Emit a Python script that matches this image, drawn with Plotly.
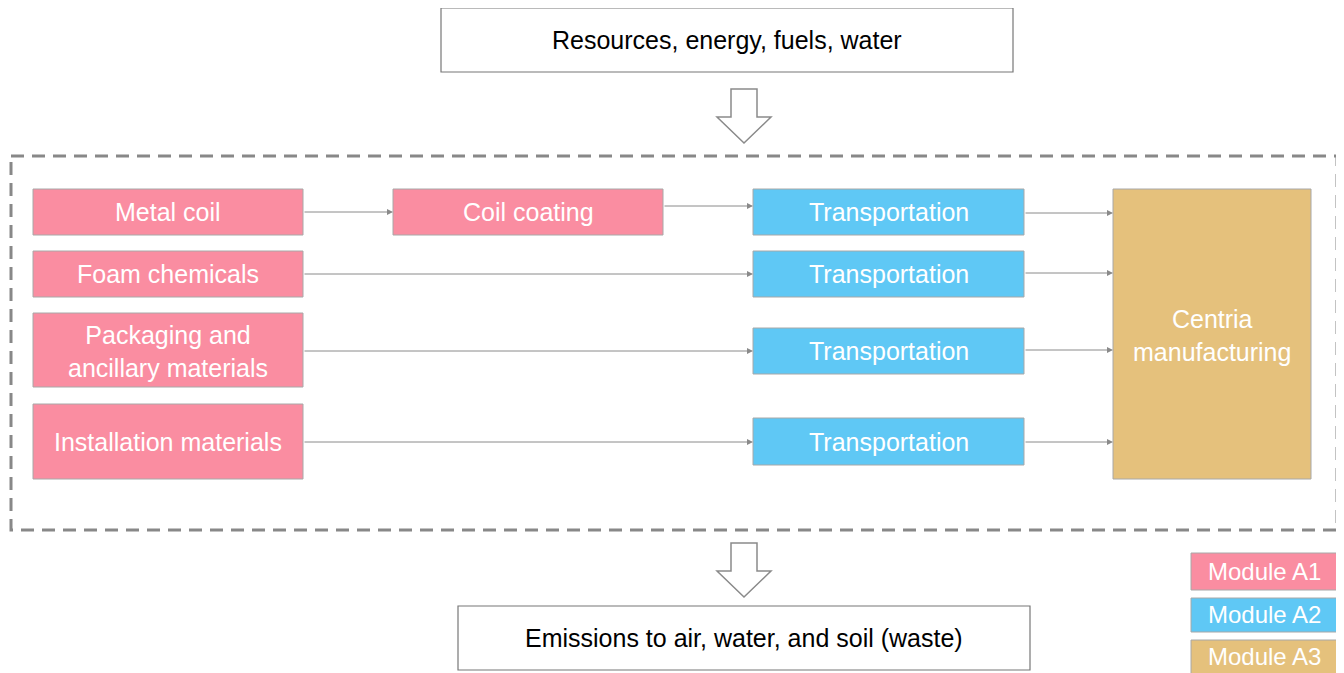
import plotly.graph_objects as go

# ---- content ----
a1_labels = ["Metal coil", "Foam chemicals", "Packaging and<br>ancillary materials", "Installation materials"]
coating_label = "Coil coating"
a2_labels = ["Transportation", "Transportation", "Transportation", "Transportation"]
a3_label = "Centria<br>manufacturing"
top_label = "Resources, energy, fuels, water"
bottom_label = "Emissions to air, water, and soil (waste)"
legend_labels = ["Module A1", "Module A2", "Module A3"]

# ---- layout (pixel geometry) ----
a1_x = (33, 303)
a1_y = [(189, 235), (251, 297), (313, 387), (404, 479)]
coat_x = (393, 663)
coat_y = (189, 235)
a2_x = (753, 1024)
a2_y = [(189, 235), (251, 297), (328, 374), (418, 465)]
a3_box = (1113, 1311, 189, 479)
a1_arrow_y = [212, 274, 351, 442]
arrow_in_y = [213, 273, 350, 442]
top_box = (441, 1013, 8, 72)
bot_box = (458, 1030, 606, 670)
legend_x = (1191, 1338)
legend_y = [(553, 590), (598, 632), (640, 676)]

PINK = "#FA8DA1"
BLUE = "#5FC8F5"
TAN = "#E5C17C"
EDGE = "#A8A8A8"
GREY = "#8A8A8A"
FONT = "Liberation Sans, Arial, sans-serif"

fig = go.Figure()
shapes = []
annots = []


def box(x0, x1, y0, y1, fill, text, color="white", size=25, edge=EDGE, lw=1, ty=None):
    shapes.append(dict(type="rect", xref="x", yref="y", x0=x0, x1=x1, y0=y0, y1=y1,
                       fillcolor=fill, line=dict(color=edge, width=lw), layer="above"))
    annots.append(dict(x=(x0 + x1) / 2, y=(y0 + y1) / 2 if ty is None else ty, xref="x", yref="y",
                       text=text, showarrow=False, font=dict(family=FONT, size=size, color=color),
                       xanchor="center", yanchor="middle", align="center"))


def arrow(x0, y0, x1, y1):
    annots.append(dict(x=x1, y=y1, ax=x0, ay=y0, xref="x", yref="y", axref="x", ayref="y",
                       text="", showarrow=True, arrowhead=2, arrowsize=1.2, arrowwidth=1,
                       arrowcolor=GREY, standoff=0, startstandoff=0))


def block_arrow(cx, top, head_y, tip):
    sw, hw = 13, 27
    path = (f"M {cx-sw},{top} L {cx+sw},{top} L {cx+sw},{head_y} L {cx+hw},{head_y} "
            f"L {cx},{tip} L {cx-hw},{head_y} L {cx-sw},{head_y} Z")
    shapes.append(dict(type="path", xref="x", yref="y", path=path, fillcolor="white",
                       line=dict(color=GREY, width=1.5)))


# dashed system boundary
shapes.append(dict(type="rect", xref="x", yref="y", x0=11, x1=1337, y0=156, y1=530,
                   line=dict(color="#888888", width=3, dash="13px,8px"), fillcolor="rgba(0,0,0,0)"))

# top / bottom boxes
box(*top_box, "white", top_label, color="black", size=25, edge="#777777", lw=1.2)
box(*bot_box, "white", bottom_label, color="black", size=25, edge="#777777", lw=1.2)
block_arrow(744, 89, 117, 143)
block_arrow(744, 543, 571, 597)

# A1
for lab, (y0, y1) in zip(a1_labels, a1_y):
    ty = 351 if "Packaging" in lab else None
    box(a1_x[0], a1_x[1], y0, y1, PINK, lab, ty=ty)
box(coat_x[0], coat_x[1], coat_y[0], coat_y[1], PINK, coating_label)
# A2
for lab, (y0, y1) in zip(a2_labels, a2_y):
    box(a2_x[0], a2_x[1], y0, y1, BLUE, lab)
# A3
box(a3_box[0], a3_box[1], a3_box[2], a3_box[3], TAN, a3_label, ty=335)

# flow arrows
arrow(a1_x[1], a1_arrow_y[0], coat_x[0], a1_arrow_y[0])
arrow(coat_x[1], 206, a2_x[0], 206)
for yy in a1_arrow_y[1:]:
    arrow(a1_x[1], yy, a2_x[0], yy)
for yy in arrow_in_y:
    arrow(a2_x[1], yy, a3_box[0], yy)

# legend
for lab, (y0, y1), c, ty in zip(legend_labels, legend_y, [PINK, BLUE, TAN], [571, 614, 656]):
    box(legend_x[0], legend_x[1], y0, y1, c, lab, size=24, ty=ty)

# the page body has an 8px default margin: offset the visible range to compensate
fig.update_layout(
    width=1336, height=665,
    margin=dict(l=0, r=0, t=0, b=0),
    paper_bgcolor="white", plot_bgcolor="white",
    xaxis=dict(range=[8, 1344], visible=False, fixedrange=True),
    yaxis=dict(range=[673, 8], visible=False, fixedrange=True),
    shapes=shapes, annotations=annots, showlegend=False,
)
fig.write_html("out.html")
